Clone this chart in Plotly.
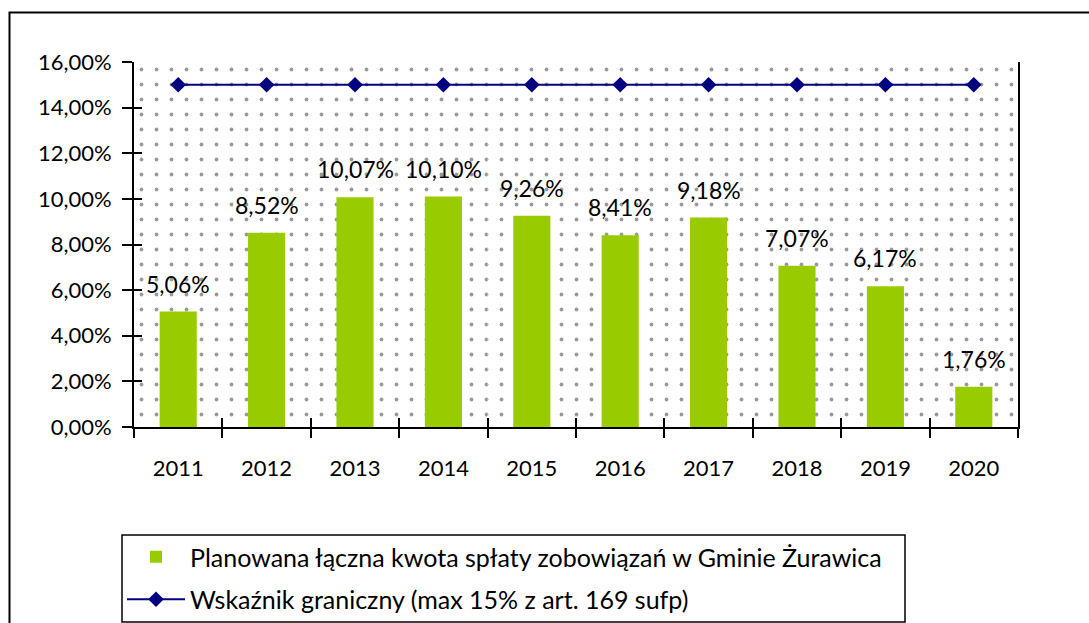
import plotly.graph_objects as go

years = ["2011", "2012", "2013", "2014", "2015", "2016", "2017", "2018", "2019", "2020"]
planned = [5.06, 8.52, 10.07, 10.10, 9.26, 8.41, 9.18, 7.07, 6.17, 1.76]
limit = [15, 15, 15, 15, 15, 15, 15, 15, 15, 15]
y_ticks = [0, 2, 4, 6, 8, 10, 12, 14, 16]

name_bar = "Planowana łączna kwota spłaty zobowiązań w Gminie Żurawica"
name_line = "Wskaźnik graniczny (max 15% z art. 169 sufp)"


def pct(v):
    return f"{v:.2f}".replace(".", ",") + "%"


y_text = [pct(t) for t in y_ticks]

FONT = "Lato"
FS_TICK = 22
FS_LABEL = 23
FS_LEG = 25
y_max = y_ticks[-1]

fig = go.Figure()

# dotted plot-area background (decoration): full-width columns up to the axis maximum
fig.add_trace(go.Bar(
    x=years, y=[y_max] * len(years), width=1, xaxis="x", yaxis="y",
    marker=dict(color="white", line=dict(width=0),
                pattern=dict(shape=".", fgcolor="#333333", bgcolor="white",
                             size=15, solidity=0.05)),
    showlegend=False, hoverinfo="skip"))

fig.add_trace(go.Bar(
    x=years, y=planned, xaxis="x", yaxis="y", name=name_bar,
    marker=dict(color="#99CC00", line=dict(width=0)),
    legendgroup="a"))

fig.add_trace(go.Scatter(
    x=years, y=limit, xaxis="x2", yaxis="y2", name=name_line,
    mode="lines+markers",
    line=dict(color="#000080", width=2),
    marker=dict(symbol="diamond", size=12, color="#000080"),
    legendgroup="b"))

for i, v in enumerate(planned):
    fig.add_annotation(x=i, y=v, xref="x", yref="y", text=pct(v),
                       showarrow=False, yanchor="middle", yshift=28,
                       font=dict(family=FONT, size=FS_LABEL, color="black"))

L = 134
R = 1018
T = 62
B = 427
W = 1089
H = 623
pw = R - L
ph = B - T


def px(xp):
    return (xp - L) / pw


def py(yp):
    return (B - yp) / ph


# outer chart-area frame
fig.add_shape(type="rect", xref="paper", yref="paper",
              x0=px(9.5), x1=px(1100), y0=py(12.5), y1=py(660),
              line=dict(color="black", width=2), fillcolor="rgba(0,0,0,0)")
# legend frame
fig.add_shape(type="rect", xref="paper", yref="paper",
              x0=px(122), x1=px(905), y0=py(535), y1=py(622),
              line=dict(color="black", width=1.5), fillcolor="rgba(0,0,0,0)")

fig.update_layout(
    width=W, height=H,
    margin=dict(l=L, r=W - R, t=T, b=H - B, autoexpand=False),
    paper_bgcolor="white", plot_bgcolor="white",
    barmode="overlay",
    bargap=0.58,
    font=dict(family=FONT, size=FS_TICK, color="black"),
    xaxis=dict(type="category", categoryorder="array", categoryarray=years,
               range=[-0.5, len(years) - 0.5],
               showline=True, linecolor="black", linewidth=2,
               ticks="outside", ticklen=9, tickwidth=1.5, tickcolor="black",
               tickson="boundaries", showgrid=False, zeroline=False,
               tickangle=0, ticklabelstandoff=21,
               tickfont=dict(family=FONT, size=FS_TICK, color="black")),
    xaxis2=dict(type="category", categoryorder="array", categoryarray=years,
                range=[-0.5, len(years) - 0.5],
                overlaying="x", anchor="y2", side="bottom",
                showline=False, ticks="inside", ticklen=9, tickwidth=1.5,
                tickcolor="black", tickson="boundaries", showgrid=False,
                zeroline=False, showticklabels=False),
    yaxis=dict(range=[0, y_max], tickvals=y_ticks, ticktext=y_text,
               showline=True, linecolor="black", linewidth=2,
               mirror=True, ticks="outside", ticklen=10, tickwidth=1.5,
               tickcolor="black", showgrid=False, zeroline=False,
               ticklabelstandoff=6,
               tickfont=dict(family=FONT, size=FS_TICK, color="black")),
    yaxis2=dict(range=[0, y_max], tickvals=y_ticks, overlaying="y",
                anchor="x2", side="left", showline=False, ticks="inside",
                ticklen=8, tickwidth=1.5, tickcolor="black",
                showgrid=False, zeroline=False, showticklabels=False),
    legend=dict(xref="container", yref="container",
                x=122 / W, y=1 - 534 / H, xanchor="left", yanchor="top",
                borderwidth=0, bgcolor="rgba(0,0,0,0)",
                traceorder="grouped", tracegroupgap=7, itemwidth=58,
                font=dict(family=FONT, size=FS_LEG, color="black")),
    showlegend=True,
)

fig.write_html("out.html",
               config={"displayModeBar": False},
               post_script="document.body.style.margin='0';"
                           "document.body.style.overflow='hidden';")
